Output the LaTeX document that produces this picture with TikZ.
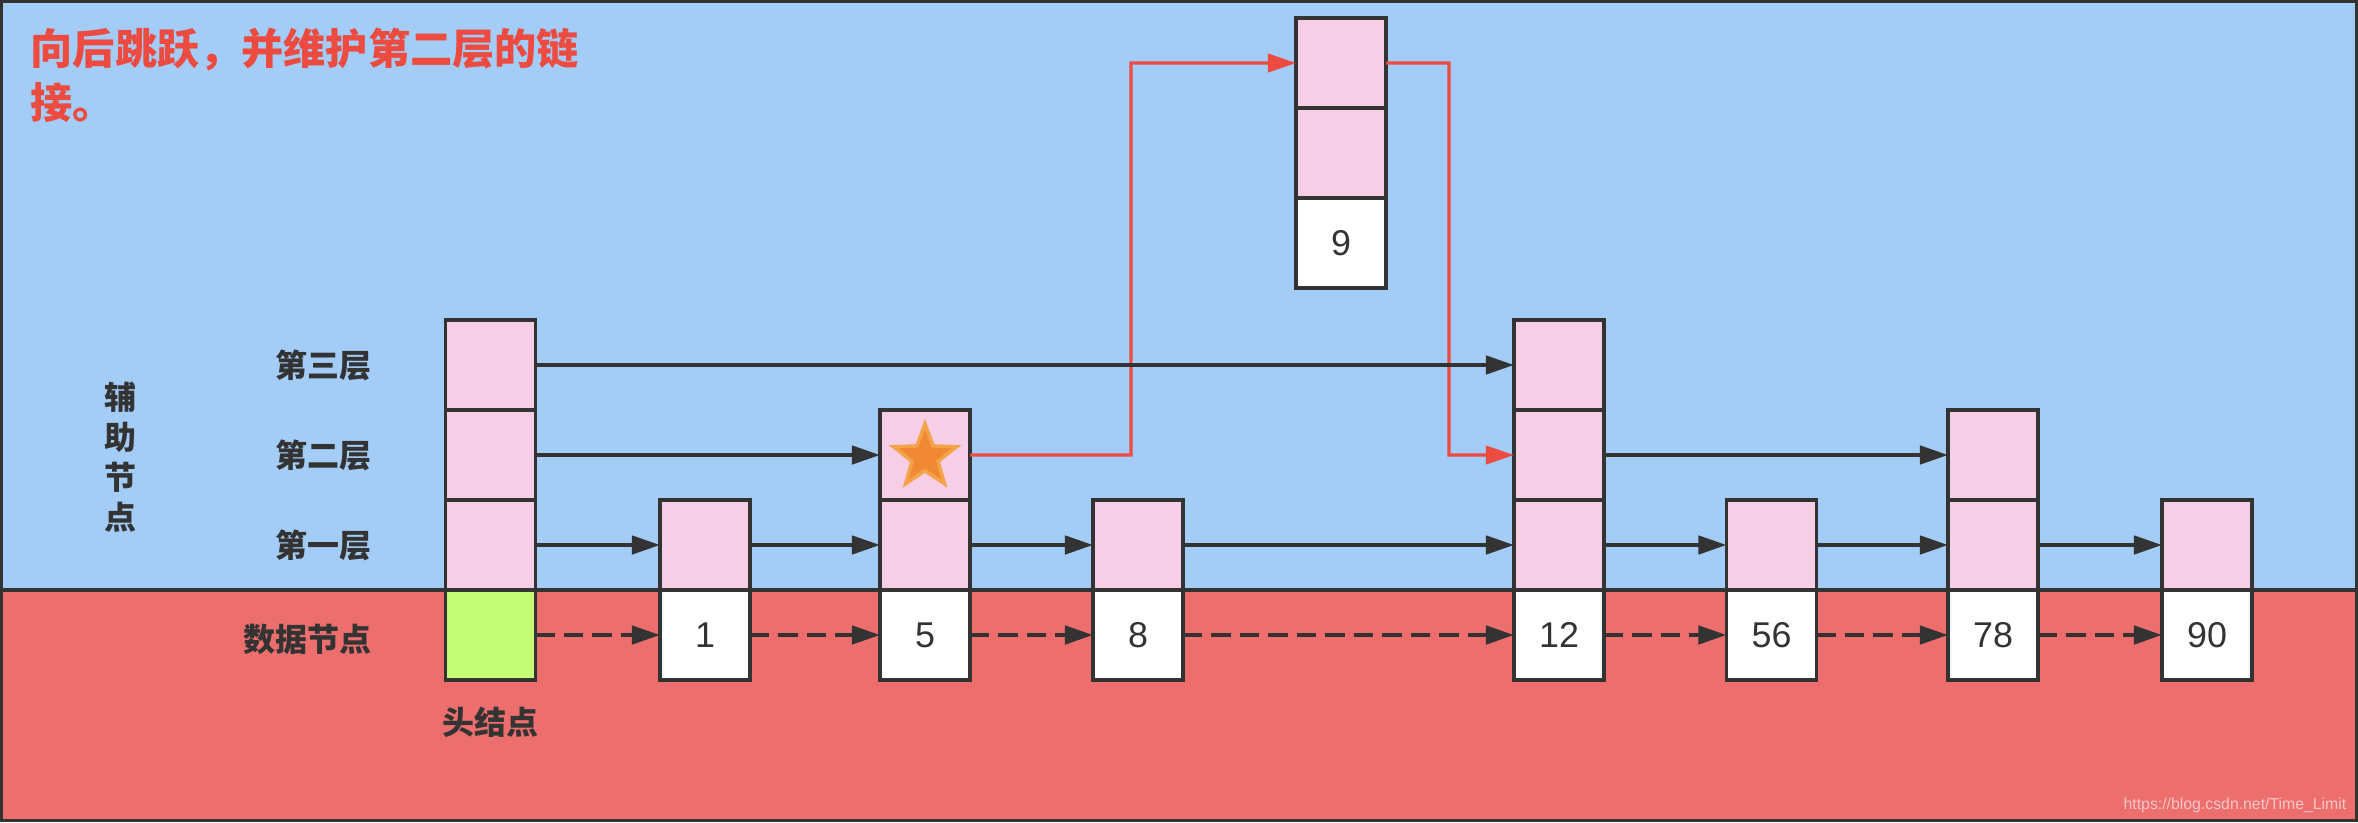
\documentclass[tikz,border=0pt]{standalone}
\usepackage{fontspec}
\setmainfont{Liberation Sans}
\newfontfamily\cjk{Noto Sans CJK SC}
\usetikzlibrary{
  arrows.meta,
  positioning,
  shapes.geometric,
}
\definecolor{upperbg}{RGB}{163,204,247}
\definecolor{lowerbg}{RGB}{237,111,109}
\definecolor{cellpink}{RGB}{246,206,230}
\definecolor{headgreen}{RGB}{197,252,118}
\definecolor{inkcol}{RGB}{51,51,51}
\definecolor{jumpred}{RGB}{237,74,64}
\definecolor{starfill}{RGB}{240,136,54}
\definecolor{staredge}{RGB}{245,163,72}
\definecolor{markcol}{RGB}{248,200,200}
\tikzset{
  cell/.style={
    rectangle, draw=inkcol, line width=1pt,
    minimum width=0.9cm, minimum height=0.9cm,
    inner sep=0pt, outer sep=0pt,
    font=\fontsize{10.2}{12}\selectfont, text=inkcol
  },
  levelcell/.style={cell, fill=cellpink},
  datacell/.style={cell, fill=white},
  headcell/.style={cell, fill=headgreen},
  linkarrow/.style={->, >={Triangle[length=8pt, width=5.2pt]}, line width=1.1pt, inkcol},
  dataarrow/.style={linkarrow, dash pattern=on 5.5pt off 2.6pt},
  jumparrow/.style={->, >={Triangle[length=8pt, width=5.2pt]}, line width=0.9pt, jumpred},
  sidelabel/.style={
    font=\cjk\bfseries\fontsize{9.1}{11.4}\selectfont,
    text=inkcol, inner sep=0pt, align=center
  },
  starmark/.style={
    star, star points=5, star point ratio=2.4, minimum size=0.66cm,
    inner sep=0pt, fill=starfill, draw=staredge, line width=1pt
  },
}

\begin{document}
\begin{tikzpicture}

  % ── Background ──
  \useasboundingbox (0,0) rectangle (23.58,8.22);
  \draw[inkcol, line width=1pt, fill=upperbg] (0.015,2.32) rectangle (23.565,8.205);
  \draw[inkcol, line width=1pt, fill=lowerbg] (0.015,0.015) rectangle (23.565,2.32);

  % ── Head node ──
  \node[headcell] (h0) at (4.905,1.87) {};
  \node[levelcell, above=0pt of h0] (h1) {};
  \node[levelcell, above=0pt of h1] (h2) {};
  \node[levelcell, above=0pt of h2] (h3) {};

  % ── Data nodes ──
  \node[datacell] (x1) at (7.05,1.87) {1};
  \node[levelcell, above=0pt of x1] (x1l1) {};

  \node[datacell] (x5) at (9.25,1.87) {5};
  \node[levelcell, above=0pt of x5]   (x5l1) {};
  \node[levelcell, above=0pt of x5l1] (x5l2) {};
  \node[starmark] (star5) at ([yshift=-0.02cm]x5l2) {};

  \node[datacell] (x8) at (11.38,1.87) {8};
  \node[levelcell, above=0pt of x8] (x8l1) {};

  \node[datacell] (x9) at (13.41,5.79) {9};
  \node[levelcell, above=0pt of x9]   (x9l1) {};
  \node[levelcell, above=0pt of x9l1] (x9l2) {};

  \node[datacell] (x12) at (15.59,1.87) {12};
  \node[levelcell, above=0pt of x12]   (x12l1) {};
  \node[levelcell, above=0pt of x12l1] (x12l2) {};
  \node[levelcell, above=0pt of x12l2] (x12l3) {};

  \node[datacell] (x56) at (17.715,1.87) {56};
  \node[levelcell, above=0pt of x56] (x56l1) {};

  \node[datacell] (x78) at (19.93,1.87) {78};
  \node[levelcell, above=0pt of x78]   (x78l1) {};
  \node[levelcell, above=0pt of x78l1] (x78l2) {};

  \node[datacell] (x90) at (22.07,1.87) {90};
  \node[levelcell, above=0pt of x90] (x90l1) {};

  % ── Jump (red) ──
  \coordinate (bendA) at (11.31,7.59);
  \coordinate (bendB) at (14.49,7.59);
  \draw[jumparrow] (x5l2.east) -| (bendA) -- (x9l2.west);
  \draw[jumparrow] (x9l2.east) -- (bendB) |- (x12l2.west);

  % ── Level links ──
  \draw[linkarrow] (h3) -- (x12l3);

  \draw[linkarrow] (h2) -- (x5l2);
  \draw[linkarrow] (x12l2) -- (x78l2);

  \draw[linkarrow] (h1) -- (x1l1);
  \draw[linkarrow] (x1l1) -- (x5l1);
  \draw[linkarrow] (x5l1) -- (x8l1);
  \draw[linkarrow] (x8l1) -- (x12l1);
  \draw[linkarrow] (x12l1) -- (x56l1);
  \draw[linkarrow] (x56l1) -- (x78l1);
  \draw[linkarrow] (x78l1) -- (x90l1);

  % ── Data links ──
  \draw[dataarrow] (h0) -- (x1);
  \draw[dataarrow] (x1) -- (x5);
  \draw[dataarrow] (x5) -- (x8);
  \draw[dataarrow] (x8) -- (x12);
  \draw[dataarrow] (x12) -- (x56);
  \draw[dataarrow] (x56) -- (x78);
  \draw[dataarrow] (x78) -- (x90);

  % ── Labels ──
  \node[sidelabel, left=0.73cm of h3] (lab3) {第三层};
  \node[sidelabel, left=0.73cm of h2] (lab2) {第二层};
  \node[sidelabel, left=0.73cm of h1] (lab1) {第一层};
  \node[sidelabel, left=0.73cm of h0, yshift=-0.04cm] (lab0) {数据节点};
  \node[sidelabel, below=0.26cm of h0] (headlab) {头结点};
  \node[sidelabel] (auxlab) at (1.20,3.65) {辅\\助\\节\\点};

  % ── Title ──
  \node[font=\cjk\bfseries\fontsize{12}{15.4}\selectfont, text=jumpred,
        anchor=north west, inner sep=0pt, align=left] (title) at (0.30,7.95)
    {向后跳跃，并维护第二层的链\\接。};

  % ── Watermark ──
  \node[font=\fontsize{4.5}{5}\selectfont, text=markcol, anchor=east, inner sep=0pt]
    (mark) at (23.47,0.17) {https://blog.csdn.net/Time\_Limit};

\end{tikzpicture}
\end{document}
